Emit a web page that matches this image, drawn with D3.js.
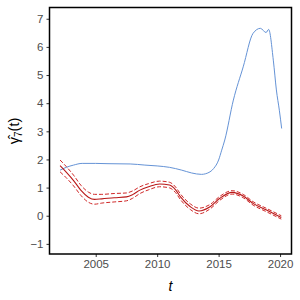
<!DOCTYPE html>
<html>
<head>
<meta charset="utf-8">
<script src="https://cdn.jsdelivr.net/npm/d3@7"></script>
<style>
  body { margin: 0; background: #fff; }
  text { font-family: "Liberation Sans", Arial, sans-serif; }
</style>
</head>
<body>
<div id="chart"></div>
<script>
// blue curve
const blueYears = [2002.1, 2002.6, 2003.2, 2003.9, 2005.0, 2006.0, 2007.8, 2009.0, 2010.0, 2011.0,
  2012.0, 2012.8, 2013.6, 2014.3, 2014.6, 2015.0, 2015.25, 2015.5, 2016.2, 2017.0, 2017.8,
  2018.4, 2018.86, 2019.07, 2019.45, 2019.7, 2019.94, 2020.13];
const blueVals = [1.62, 1.72, 1.80, 1.86, 1.86, 1.85, 1.84, 1.80, 1.77, 1.72,
  1.62, 1.52, 1.47, 1.56, 1.68, 1.98, 2.33, 2.69, 4.11, 5.29, 6.48,
  6.66, 6.51, 6.62, 5.53, 4.47, 3.75, 3.10];

// red estimate with band
const redYears = [2002.1, 2002.6, 2003.2, 2003.8, 2004.4, 2004.9, 2005.5, 2006.5, 2007.5, 2008.0,
  2008.6, 2009.3, 2010.2, 2011.0, 2011.5, 2011.9, 2012.7, 2013.4, 2014.3, 2015.1,
  2016.1, 2017.0, 2017.8, 2018.9, 2020.1];
const redMid = [1.78, 1.55, 1.25, 0.90, 0.66, 0.58, 0.60, 0.64, 0.67, 0.75,
  0.91, 1.03, 1.13, 1.09, 0.92, 0.67, 0.32, 0.17, 0.32, 0.62,
  0.83, 0.70, 0.44, 0.20, -0.06];
const redUpper = [1.98, 1.75, 1.44, 1.08, 0.84, 0.76, 0.76, 0.79, 0.81, 0.88,
  1.03, 1.14, 1.23, 1.19, 1.02, 0.77, 0.42, 0.27, 0.40, 0.69,
  0.89, 0.76, 0.50, 0.26, 0.00];
const redLower = [1.56, 1.35, 1.06, 0.72, 0.48, 0.41, 0.45, 0.49, 0.53, 0.62,
  0.79, 0.92, 1.03, 0.99, 0.82, 0.57, 0.22, 0.07, 0.24, 0.55,
  0.77, 0.64, 0.38, 0.14, -0.12];

const xTicks = [2005, 2010, 2015, 2020];
const yTicks = [-1, 0, 1, 2, 3, 4, 5, 6, 7];

const width = 300, height = 300;
const margin = {top: 7.5, right: 8.5, bottom: 46, left: 49.5};

const svg = d3.select("#chart").append("svg")
  .attr("width", width)
  .attr("height", height);

const x = d3.scaleLinear()
  .domain([2001.24, 2020.93])
  .range([margin.left, width - margin.right]);

const y = d3.scaleLinear()
  .domain([-1.36, 7.4])
  .range([height - margin.bottom, margin.top]);

// axes
const xAxis = svg.append("g")
  .attr("transform", `translate(0,${height - margin.bottom})`)
  .call(d3.axisBottom(x).tickValues(xTicks).tickFormat(d3.format("d")).tickSize(3).tickPadding(3));
const yAxis = svg.append("g")
  .attr("transform", `translate(${margin.left},0)`)
  .call(d3.axisLeft(y).tickValues(yTicks).tickSize(3).tickPadding(3));

[xAxis, yAxis].forEach(function(g) {
  g.select(".domain").remove();
  g.selectAll("line").attr("stroke", "#333");
  g.selectAll("text")
    .attr("fill", "#4d4d4d")
    .style("font-size", "11.5px")
    .style("font-family", "'Liberation Sans', Arial, sans-serif");
});

function lineOf(xs, ys) {
  return d3.line()
    .x(function(d, i) { return x(xs[i]); })
    .y(function(d) { return y(d); })
    .curve(d3.curveMonotoneX)(ys);
}

svg.append("path")
  .attr("d", lineOf(blueYears, blueVals))
  .attr("fill", "none")
  .attr("stroke", "#6593d6")
  .attr("stroke-width", 1);

[redUpper, redLower].forEach(function(vals) {
  svg.append("path")
    .attr("d", lineOf(redYears, vals))
    .attr("fill", "none")
    .attr("stroke", "#d02828")
    .attr("stroke-width", 1)
    .attr("stroke-dasharray", "4,2");
});

svg.append("path")
  .attr("d", lineOf(redYears, redMid))
  .attr("fill", "none")
  .attr("stroke", "#b81818")
  .attr("stroke-width", 1.1);

// panel border
svg.append("rect")
  .attr("x", margin.left)
  .attr("y", margin.top)
  .attr("width", width - margin.left - margin.right)
  .attr("height", height - margin.top - margin.bottom)
  .attr("fill", "none")
  .attr("stroke", "#000")
  .attr("stroke-width", 1.5);

// axis titles
svg.append("text")
  .attr("x", (margin.left + width - margin.right) / 2)
  .attr("y", 291)
  .attr("text-anchor", "middle")
  .style("font-size", "14px")
  .style("font-style", "italic")
  .text("t");

const yt = svg.append("text")
  .attr("transform", "translate(19,131) rotate(-90)")
  .attr("text-anchor", "middle")
  .style("font-size", "14.5px");
yt.append("tspan").text("γ\u0302");
yt.append("tspan").attr("dy", 3).style("font-size", "10px").text("7");
yt.append("tspan").attr("dy", -3).text("(t)");
</script>
</body>
</html>
